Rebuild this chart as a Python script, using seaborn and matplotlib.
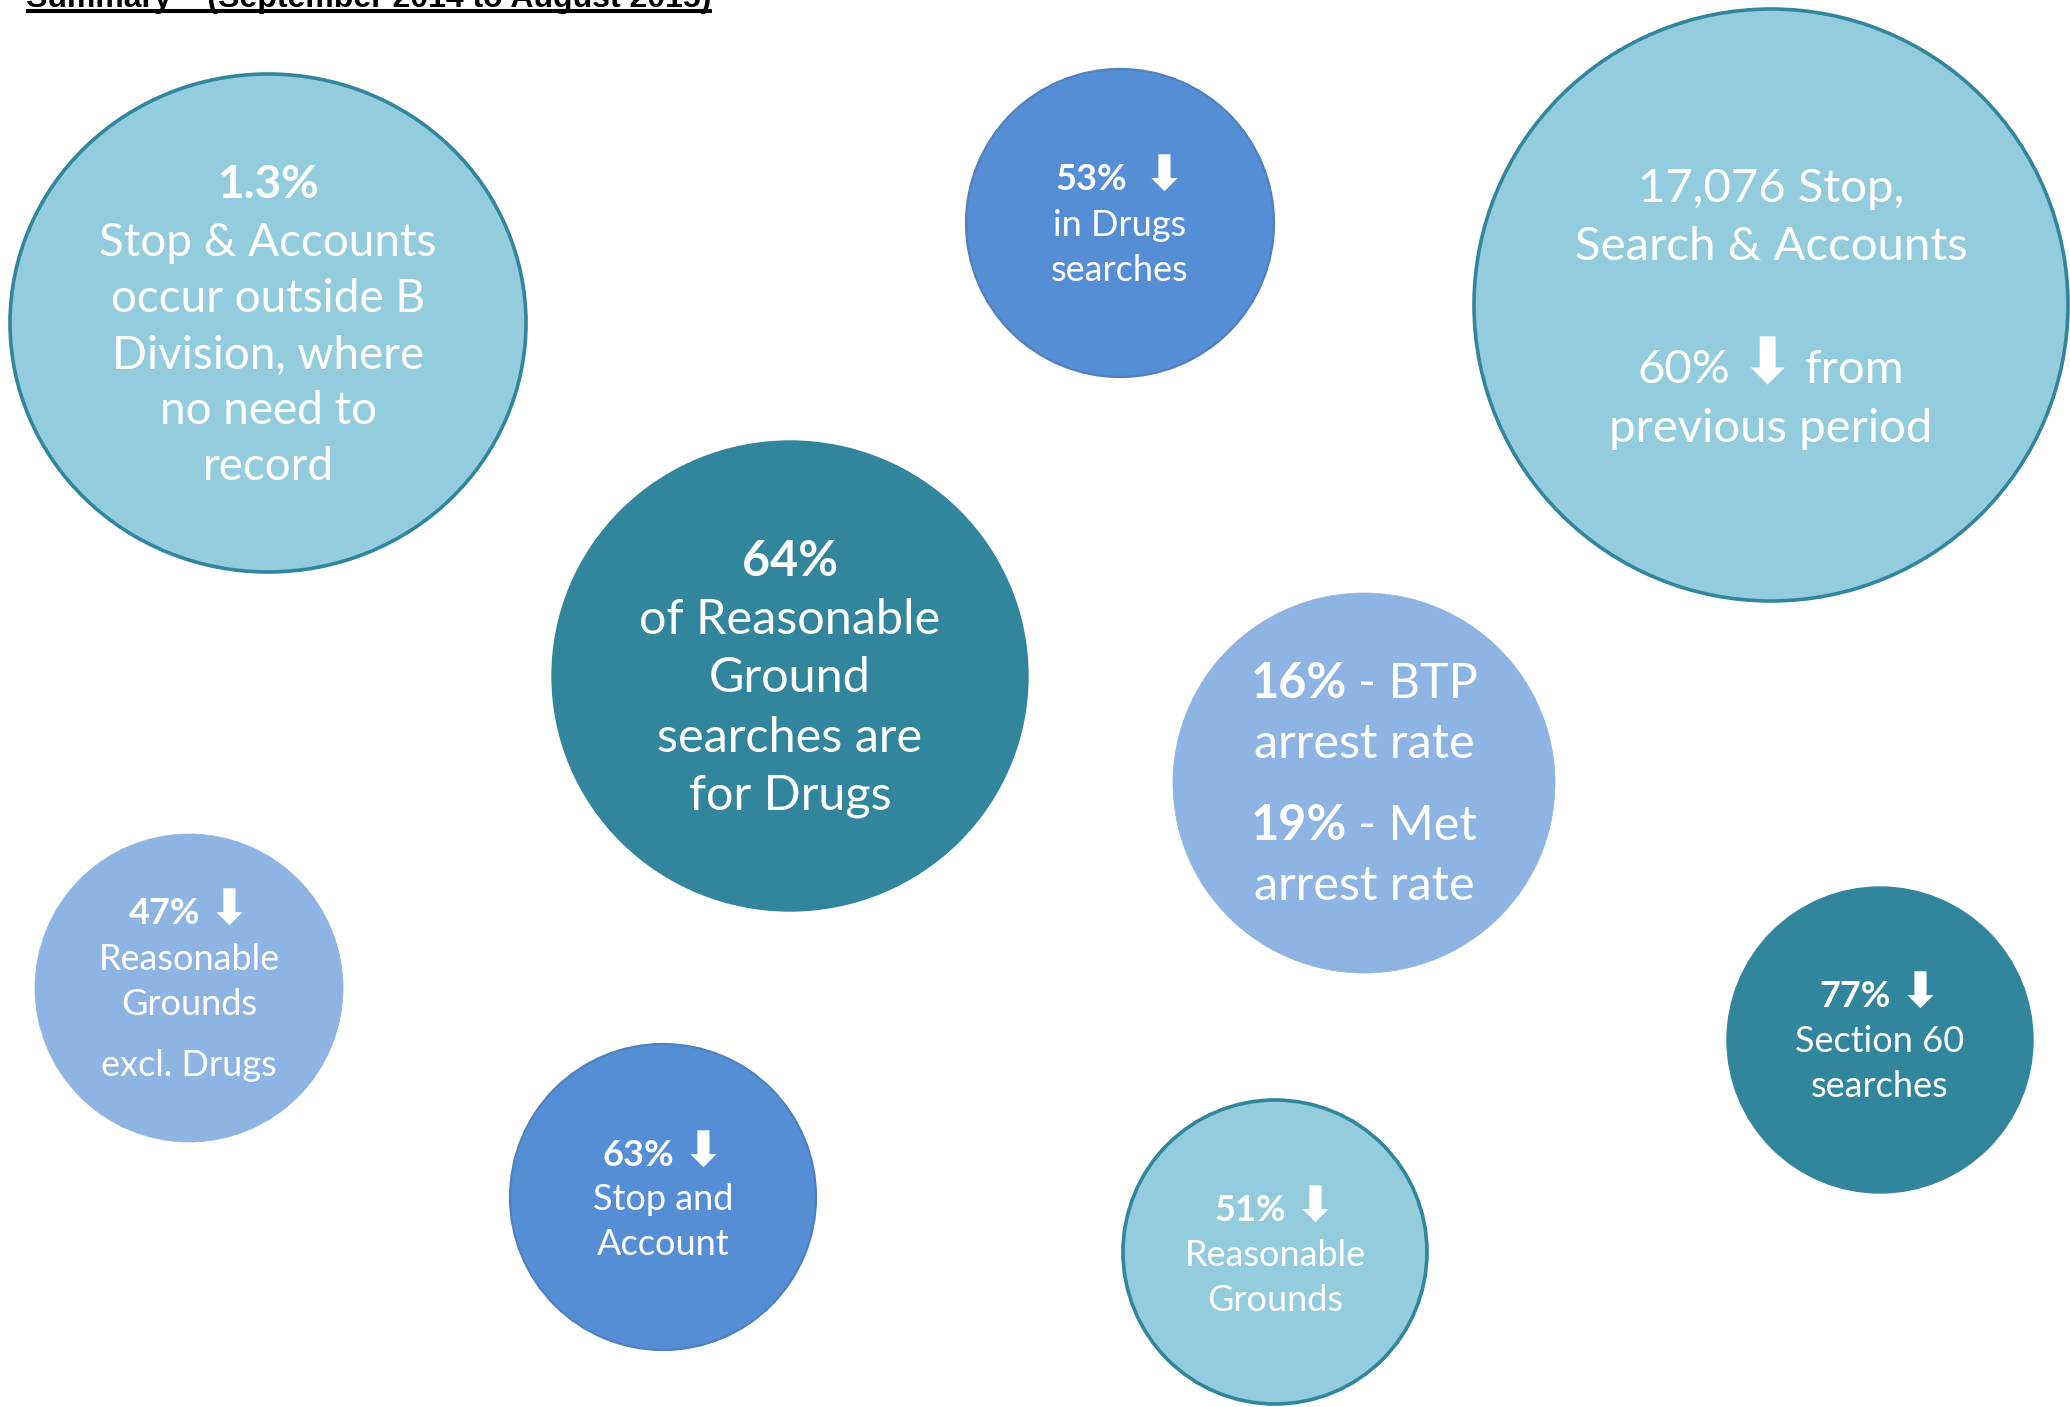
import matplotlib
matplotlib.use("Agg")
import matplotlib.pyplot as plt
from matplotlib.patches import Ellipse
import seaborn as sns

W, H = 2070, 1407

# Text of each bubble (** marks bold runs)
title_text = "Summary \u2013 (September 2014 to August 2015)"
DOWN = "\u2b07"
bubble_lines = [
    ["**1.3%**", "Stop & Accounts", "occur outside B", "Division, where", "no need to", "record"],
    ["**53%**  **" + DOWN + "**", "in Drugs", "searches"],
    ["17,076 Stop,", "Search & Accounts", "60% **" + DOWN + "** from", "previous period"],
    ["**64%**", "of Reasonable", "Ground", "searches are", "for Drugs"],
    ["**16%** - BTP", "arrest rate", "**19%** - Met", "arrest rate"],
    ["**47%** **" + DOWN + "**", "Reasonable", "Grounds", "excl. Drugs"],
    ["**63%** **" + DOWN + "**", "Stop and", "Account"],
    ["**51%** **" + DOWN + "**", "Reasonable", "Grounds"],
    ["**77%** **" + DOWN + "**", "Section 60", "searches"],
]
bubble_kind = ["aqua", "blue", "aqua", "teal", "lav", "lav", "blue", "aqua", "teal"]

# layout (pixels)
centers_x = [268, 1120, 1771, 790, 1364, 189, 663, 1275, 1880]
centers_y = [323, 223, 305, 676, 783, 988, 1197, 1252, 1040]
widths = [516, 308, 594, 476, 382, 308, 306, 304, 306]
heights = [498, 308, 592, 470, 380, 308, 306, 304, 306]
line_y = [[181, 239, 296, 352, 408, 463], [177, 223, 268], [185, 243, 366, 425],
          [558, 617, 675, 734, 792], [681, 741, 822, 882], [911, 957, 1002, 1063],
          [1153, 1197, 1242], [1208, 1253, 1298], [994, 1039, 1084]]
font_pt = [33, 26, 34, 35, 35, 26, 26, 26, 26]

fills = {"aqua": "#93CDDD", "teal": "#31859C", "blue": "#558ED5", "lav": "#8EB4E3"}
edges = {"aqua": "#31859C", "teal": "#31859C", "blue": "#4F81BD", "lav": "#8EB4E3"}
edge_w = {"aqua": 2.6, "teal": 1.0, "blue": 1.6, "lav": 0.5}

sns.set_theme(style="white")
plt.rcParams["font.family"] = ["Lato", "DejaVu Sans"]

fig = plt.figure(figsize=(W / 100, H / 100), dpi=100)
ax = fig.add_axes([0, 0, 1, 1])
ax.set_xlim(0, W)
ax.set_ylim(H, 0)
ax.axis("off")
renderer = fig.canvas.get_renderer()


def put_line(x, y, line, size):
    '''draw one centred line made of bold/regular runs'''
    parts = line.split("**")
    objs, gaps = [], []
    px = size * 100 / 72
    spaces = 0
    for i, p in enumerate(parts):
        if not p.strip():
            spaces += len(p)
            continue
        lead = len(p) - len(p.lstrip())
        gap = 0.23 * px * (spaces + lead) if objs else 0.0
        s = p.strip()
        fs = size * 1.35 if s == DOWN else size
        t = ax.text(0, y + 0.36 * px, s, fontsize=fs, color="white",
                    fontweight="bold" if i % 2 else "normal", ha="left", va="baseline")
        objs.append(t)
        gaps.append(gap)
        spaces = len(p) - len(p.rstrip())
    ws = [t.get_window_extent(renderer).width for t in objs]
    total = sum(ws) + sum(gaps)
    x0 = x - total / 2
    for t, w, g in zip(objs, ws, gaps):
        x0 += g
        t.set_x(x0)
        x0 += w


for k, lines in enumerate(bubble_lines):
    kind = bubble_kind[k]
    ax.add_patch(Ellipse((centers_x[k], centers_y[k]), widths[k], heights[k],
                         facecolor=fills[kind], edgecolor=edges[kind], linewidth=edge_w[kind]))
    for ln, yy in zip(lines, line_y[k]):
        put_line(centers_x[k], yy, ln, font_pt[k])

# title, cut off at the top edge of the page
tt = ax.text(26, 7, title_text, fontsize=20, fontweight="bold", color="black",
             family="Liberation Sans", ha="left", va="baseline")
tw = tt.get_window_extent(renderer).width
tt.set_fontsize(20 * 686 / tw)
ax.plot([26, 712], [11, 11], color="black", linewidth=2.9, solid_capstyle="butt")

fig.savefig("out.png", dpi=100)
plt.close(fig)
